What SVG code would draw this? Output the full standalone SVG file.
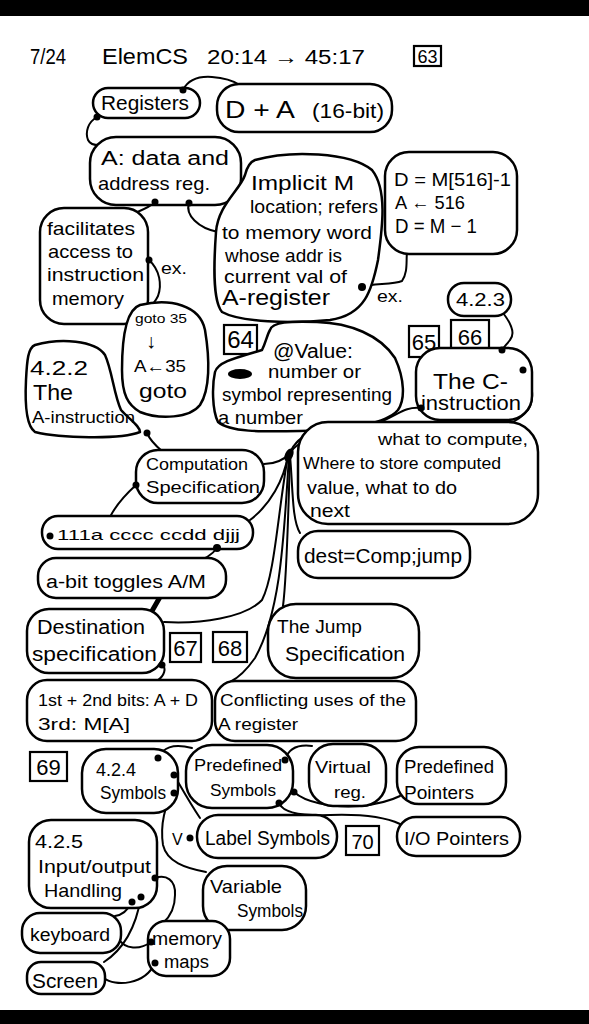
<svg xmlns="http://www.w3.org/2000/svg" width="589" height="1024" viewBox="0 0 589 1024">
<style>
.b{fill:#fff;stroke:#000;stroke-width:2.5;stroke-linejoin:round}
.bx{fill:#fff;stroke:#000;stroke-width:2.2}
.c{fill:none;stroke:#000;stroke-width:2;stroke-linecap:round}
.d{fill:#000}
text{font-family:"Liberation Sans","DejaVu Sans",sans-serif;fill:#000}
</style>
<rect x="0" y="0" width="589" height="1024" fill="#fff"/>
<rect x="0" y="0" width="589" height="16" fill="#000"/>
<rect x="0" y="1010" width="589" height="14" fill="#000"/>

<g id="header">
<text x="30" y="64" font-size="22" textLength="36" lengthAdjust="spacingAndGlyphs">7/24</text>
<text x="102" y="64" font-size="22" textLength="86" lengthAdjust="spacingAndGlyphs">ElemCS</text>
<text x="207" y="64" font-size="20" textLength="158" lengthAdjust="spacingAndGlyphs">20:14 → 45:17</text>
<rect class="bx" x="414" y="46" width="27" height="20"/>
<text x="427.5" y="63" font-size="18" text-anchor="middle">63</text>
</g>

<g id="connectors">
<path class="c" d="M183,90 C188,80 198,76 212,77 C225,78 232,80 240,85"/>
<path class="c" d="M97,117 C88,122 85,132 88,140 C92,148 108,146 128,138"/>
<path class="c" d="M155,202 C150,207 142,210 135,213"/>
<path class="c" d="M189,203 C185,215 198,228 218,232"/>
<path class="c" d="M149,260 C160,270 162,285 158,296 C155,302 152,305 150,306"/>
<path class="c" d="M362,287 C372,283 392,285 402,281 C408,272 406,262 407,252"/>
<path class="c" d="M503,313 C510,322 516,333 510,340 C507,344 504,347 502,350"/>
<path class="c" d="M523,370 C533,380 535,400 528,410 C520,420 512,423 505,425"/>
<path class="c" d="M421,408 C405,406 398,415 380,422 C350,432 305,430 290,453"/>
<path class="c" d="M147,433 C150,440 156,446 162,451"/>
<path class="c" d="M136,485 C125,495 115,507 110,517"/>
<path class="c" d="M217,548 C212,555 202,560 195,562"/>
<path class="c" d="M160,597 L152,611" style="stroke-width:5"/>
<path class="c" d="M162,665 C167,668 164,676 158,680"/>
<path class="c" d="M290,453 C282,462 273,464 264,464"/>
<path class="c" d="M290,453 C294,443 302,436 313,432"/>
<path class="c" d="M288,455 C284,480 270,505 250,520"/>
<path class="c" d="M290,455 C293,490 292,520 300,533"/>
<path class="c" d="M288,456 C278,510 275,575 262,600 C245,618 200,624 164,622"/>
<path class="c" d="M289,456 C284,530 282,610 255,658 C248,668 238,678 230,682"/>
<path class="c" d="M290,456 C288,520 287,575 283,606"/>
<path class="c" d="M158,758 C163,748 172,743 192,748"/>
<path class="c" d="M174,775 C180,785 188,800 200,818"/>
<path class="c" d="M174,793 C165,803 160,825 163,845 C167,862 185,868 206,872"/>
<path class="c" d="M285,760 C288,750 296,744 312,746"/>
<path class="c" d="M294,792 C305,802 330,808 360,806 C380,804 392,800 400,796"/>
<path class="c" d="M279,803 C283,813 300,816 330,815 C360,814 385,817 400,824"/>
<path class="c" d="M155,878 C166,874 176,880 175,895 C175,905 172,915 163,923"/>
<path class="c" d="M141,897 C138,915 130,945 104,962"/>
<path class="c" d="M132,902 C128,910 122,915 115,916"/>
<path class="c" d="M118,938 C125,950 140,950 151,942"/>
<path class="c" d="M104,978 C115,987 145,985 155,963"/>
</g>

<g id="n-registers"><rect class="b" x="93" y="88" width="107" height="30" rx="15"/>
<text x="101" y="110" font-size="20" textLength="88" lengthAdjust="spacingAndGlyphs">Registers</text></g>

<g id="n-da"><rect class="b" x="217" y="84" width="175" height="48" rx="22"/>
<text x="225" y="118" font-size="24" textLength="70" lengthAdjust="spacingAndGlyphs">D + A</text>
<text x="312" y="118" font-size="20" textLength="72" lengthAdjust="spacingAndGlyphs">(16-bit)</text></g>

<g id="n-adata"><rect class="b" x="90" y="137" width="151" height="68" rx="26"/>
<text x="101" y="165" font-size="20" textLength="128" lengthAdjust="spacingAndGlyphs">A: data and</text>
<text x="98" y="190" font-size="19" textLength="112" lengthAdjust="spacingAndGlyphs">address reg.</text></g>

<g id="n-implicit"><path class="b" d="M255,160 C290,150 350,152 372,170 C388,190 382,230 378,260 C372,290 365,315 330,320 C290,324 240,322 222,312 C212,300 214,260 216,232 C218,205 240,190 245,175 C247,167 250,162 255,160 Z"/>
<text x="251" y="190" font-size="20" textLength="103" lengthAdjust="spacingAndGlyphs">Implicit M</text>
<text x="250" y="213" font-size="18" textLength="128" lengthAdjust="spacingAndGlyphs">location; refers</text>
<text x="222" y="239" font-size="19" textLength="150" lengthAdjust="spacingAndGlyphs">to memory word</text>
<text x="225" y="262" font-size="19" textLength="117" lengthAdjust="spacingAndGlyphs">whose addr is</text>
<text x="224" y="283" font-size="19" textLength="123" lengthAdjust="spacingAndGlyphs">current val of</text>
<text x="222" y="305" font-size="22" textLength="108" lengthAdjust="spacingAndGlyphs">A-register</text></g>

<g id="n-dex"><rect class="b" x="385" y="152" width="132" height="102" rx="24"/>
<text x="394" y="186" font-size="19" textLength="117" lengthAdjust="spacingAndGlyphs">D = M[516]-1</text>
<text x="395" y="209" font-size="19" textLength="70" lengthAdjust="spacingAndGlyphs">A ← 516</text>
<text x="395" y="233" font-size="20" textLength="82" lengthAdjust="spacingAndGlyphs">D = M − 1</text></g>

<g id="n-facil"><rect class="b" x="40" y="208" width="108" height="116" rx="24"/>
<text x="47" y="235" font-size="19" textLength="88" lengthAdjust="spacingAndGlyphs">facilitates</text>
<text x="48" y="258" font-size="19" textLength="85" lengthAdjust="spacingAndGlyphs">access to</text>
<text x="47" y="281" font-size="19" textLength="97" lengthAdjust="spacingAndGlyphs">instruction</text>
<text x="52" y="305" font-size="19" textLength="72" lengthAdjust="spacingAndGlyphs">memory</text></g>

<g id="l-ex1"><text x="161" y="274" font-size="16" textLength="26" lengthAdjust="spacingAndGlyphs">ex.</text></g>
<g id="l-ex2"><text x="377" y="302" font-size="16" textLength="26" lengthAdjust="spacingAndGlyphs">ex.</text></g>

<g id="n-422"><path class="b" d="M35,345 C60,338 95,340 105,355 C112,370 114,395 121,410 C130,420 140,426 140,432 C120,440 60,438 35,432 C25,425 25,400 26,380 C27,360 28,348 35,345 Z"/>
<text x="30" y="375" font-size="20" textLength="58" lengthAdjust="spacingAndGlyphs">4.2.2</text>
<text x="33" y="400" font-size="22" textLength="40" lengthAdjust="spacingAndGlyphs">The</text>
<text x="32" y="423" font-size="17" textLength="103" lengthAdjust="spacingAndGlyphs">A-instruction</text></g>

<g id="n-goto"><path class="b" d="M140,305 C170,298 200,305 205,330 C210,360 210,390 200,405 C190,418 160,420 140,412 C128,405 122,395 122,370 C122,340 125,310 140,305 Z"/>
<text x="135" y="323" font-size="13" textLength="52" lengthAdjust="spacingAndGlyphs">goto 35</text>
<text x="146" y="348" font-size="20">↓</text>
<text x="134" y="372" font-size="17" textLength="52" lengthAdjust="spacingAndGlyphs">A←35</text>
<text x="139" y="398" font-size="21" textLength="48" lengthAdjust="spacingAndGlyphs">goto</text></g>

<g id="p64"><rect class="bx" x="224" y="325" width="33" height="29"/>
<text x="240.5" y="348" font-size="24" text-anchor="middle">64</text></g>

<g id="n-value"><path class="b" d="M270,330 C272,322 290,321 317,322 C350,323 380,335 395,358 C405,380 405,400 398,410 C385,425 340,430 300,431 C260,432 230,432 218,422 C212,410 212,385 215,372 C218,362 235,358 262,350 C266,342 267,335 270,330 Z"/>
<text x="273" y="358" font-size="20" textLength="80" lengthAdjust="spacingAndGlyphs">@Value:</text>
<ellipse cx="240" cy="374" rx="12" ry="5" fill="#000"/>
<text x="268" y="378" font-size="19" textLength="93" lengthAdjust="spacingAndGlyphs">number or</text>
<text x="222" y="401" font-size="18" textLength="170" lengthAdjust="spacingAndGlyphs">symbol representing</text>
<text x="218" y="424" font-size="19" textLength="85" lengthAdjust="spacingAndGlyphs">a number</text></g>

<g id="n-423"><rect class="b" x="448" y="283" width="63" height="33" rx="16"/>
<text x="456" y="306" font-size="19" textLength="49" lengthAdjust="spacingAndGlyphs">4.2.3</text></g>

<g id="p65"><rect class="bx" x="409" y="326" width="30" height="31"/>
<text x="424" y="350" font-size="22" text-anchor="middle">65</text></g>
<g id="p66"><rect class="bx" x="451" y="320" width="38" height="31"/>
<text x="470" y="345" font-size="22" text-anchor="middle">66</text></g>

<g id="n-cinstr"><rect class="b" x="416" y="348" width="116" height="72" rx="24"/>
<text x="433" y="389" font-size="22" textLength="75" lengthAdjust="spacingAndGlyphs">The C-</text>
<text x="421" y="410" font-size="20" textLength="100" lengthAdjust="spacingAndGlyphs">instruction</text></g>

<g id="n-what"><rect class="b" x="298" y="422" width="240" height="102" rx="30"/>
<text x="378" y="445" font-size="16" textLength="150" lengthAdjust="spacingAndGlyphs">what to compute,</text>
<text x="303" y="469" font-size="17" textLength="198" lengthAdjust="spacingAndGlyphs">Where to store computed</text>
<text x="307" y="494" font-size="18" textLength="150" lengthAdjust="spacingAndGlyphs">value, what to do</text>
<text x="310" y="517" font-size="19" textLength="40" lengthAdjust="spacingAndGlyphs">next</text></g>

<g id="n-comp"><rect class="b" x="136" y="450" width="128" height="53" rx="22"/>
<text x="146" y="470" font-size="17" textLength="102" lengthAdjust="spacingAndGlyphs">Computation</text>
<text x="146" y="493" font-size="17" textLength="114" lengthAdjust="spacingAndGlyphs">Specification</text></g>

<g id="n-111a"><rect class="b" x="42" y="516" width="211" height="33" rx="16"/>
<text x="57" y="540" font-size="15" textLength="183" lengthAdjust="spacingAndGlyphs">111a cccc ccdd djjj</text></g>

<g id="n-dest"><rect class="b" x="298" y="531" width="172" height="47" rx="20"/>
<text x="304" y="563" font-size="20" textLength="158" lengthAdjust="spacingAndGlyphs">dest=Comp;jump</text></g>

<g id="n-abit"><rect class="b" x="38" y="558" width="188" height="40" rx="18"/>
<text x="46" y="588" font-size="18" textLength="160" lengthAdjust="spacingAndGlyphs">a-bit toggles A/M</text></g>

<g id="n-destspec"><rect class="b" x="27" y="609" width="137" height="64" rx="22"/>
<text x="37" y="634" font-size="20" textLength="108" lengthAdjust="spacingAndGlyphs">Destination</text>
<text x="32" y="661" font-size="20" textLength="125" lengthAdjust="spacingAndGlyphs">specification</text></g>

<g id="p67"><rect class="bx" x="170" y="633" width="31" height="29"/>
<text x="185.5" y="656" font-size="22" text-anchor="middle">67</text></g>
<g id="p68"><rect class="bx" x="213" y="632" width="34" height="30"/>
<text x="230" y="656" font-size="22" text-anchor="middle">68</text></g>

<g id="n-jump"><rect class="b" x="268" y="604" width="151" height="74" rx="28"/>
<text x="277" y="633" font-size="19" textLength="85" lengthAdjust="spacingAndGlyphs">The Jump</text>
<text x="285" y="661" font-size="20" textLength="120" lengthAdjust="spacingAndGlyphs">Specification</text></g>

<g id="n-bits"><rect class="b" x="27" y="680" width="185" height="61" rx="20"/>
<text x="38" y="706" font-size="17" textLength="160" lengthAdjust="spacingAndGlyphs">1st + 2nd bits: A + D</text>
<text x="38" y="730" font-size="17" textLength="92" lengthAdjust="spacingAndGlyphs">3rd: M[A]</text></g>

<g id="n-conf"><rect class="b" x="215" y="681" width="201" height="60" rx="20"/>
<text x="220" y="706" font-size="17" textLength="186" lengthAdjust="spacingAndGlyphs">Conflicting uses of the</text>
<text x="218" y="730" font-size="17" textLength="80" lengthAdjust="spacingAndGlyphs">A register</text></g>

<g id="p69"><rect class="bx" x="30" y="752" width="37" height="29"/>
<text x="48.5" y="775" font-size="22" text-anchor="middle">69</text></g>

<g id="n-424"><rect class="b" x="82" y="749" width="96" height="64" rx="24"/>
<text x="96" y="776" font-size="18" textLength="40" lengthAdjust="spacingAndGlyphs">4.2.4</text>
<text x="100" y="799" font-size="18" textLength="66" lengthAdjust="spacingAndGlyphs">Symbols</text></g>

<g id="n-predsym"><rect class="b" x="186" y="745" width="107" height="63" rx="26"/>
<text x="194" y="771" font-size="17" textLength="88" lengthAdjust="spacingAndGlyphs">Predefined</text>
<text x="210" y="796" font-size="17" textLength="66" lengthAdjust="spacingAndGlyphs">Symbols</text></g>

<g id="n-virtual"><rect class="b" x="309" y="744" width="77" height="62" rx="24"/>
<text x="315" y="773" font-size="17" textLength="56" lengthAdjust="spacingAndGlyphs">Virtual</text>
<text x="334" y="798" font-size="17" textLength="32" lengthAdjust="spacingAndGlyphs">reg.</text></g>

<g id="n-predptr"><rect class="b" x="397" y="747" width="109" height="57" rx="22"/>
<text x="404" y="773" font-size="18" textLength="90" lengthAdjust="spacingAndGlyphs">Predefined</text>
<text x="404" y="799" font-size="18" textLength="70" lengthAdjust="spacingAndGlyphs">Pointers</text></g>

<g id="n-label"><rect class="b" x="197" y="815" width="140" height="43" rx="21"/>
<text x="172" y="845" font-size="16">V</text>
<text x="205" y="845" font-size="20" textLength="125" lengthAdjust="spacingAndGlyphs">Label Symbols</text></g>

<g id="p70"><rect class="bx" x="346" y="826" width="33" height="29"/>
<text x="362.5" y="849" font-size="20" text-anchor="middle">70</text></g>

<g id="n-io"><rect class="b" x="397" y="817" width="123" height="39" rx="19"/>
<text x="404" y="845" font-size="19" textLength="105" lengthAdjust="spacingAndGlyphs">I/O Pointers</text></g>

<g id="n-425"><rect class="b" x="29" y="820" width="128" height="88" rx="22"/>
<text x="35" y="848" font-size="18" textLength="48" lengthAdjust="spacingAndGlyphs">4.2.5</text>
<text x="38" y="873" font-size="18" textLength="113" lengthAdjust="spacingAndGlyphs">Input/output</text>
<text x="44" y="897" font-size="19" textLength="78" lengthAdjust="spacingAndGlyphs">Handling</text></g>

<g id="n-var"><rect class="b" x="203" y="866" width="103" height="64" rx="24"/>
<text x="210" y="893" font-size="19" textLength="72" lengthAdjust="spacingAndGlyphs">Variable</text>
<text x="237" y="917" font-size="18" textLength="66" lengthAdjust="spacingAndGlyphs">Symbols</text></g>

<g id="n-keyboard"><rect class="b" x="22" y="913" width="99" height="40" rx="18"/>
<text x="30" y="941" font-size="18" textLength="80" lengthAdjust="spacingAndGlyphs">keyboard</text></g>

<g id="n-memmaps"><rect class="b" x="148" y="921" width="82" height="55" rx="18"/>
<text x="152" y="945" font-size="18" textLength="70" lengthAdjust="spacingAndGlyphs">memory</text>
<text x="164" y="968" font-size="18" textLength="45" lengthAdjust="spacingAndGlyphs">maps</text></g>

<g id="n-screen"><rect class="b" x="27" y="962" width="78" height="32" rx="14"/>
<text x="32" y="988" font-size="20" textLength="66" lengthAdjust="spacingAndGlyphs">Screen</text></g>

<g id="connector-dots">
<circle class="d" cx="183" cy="90" r="3.5"/><circle class="d" cx="97" cy="117" r="3.5"/>
<circle class="d" cx="155" cy="202" r="3.5"/><circle class="d" cx="189" cy="203" r="3.5"/>
<circle class="d" cx="149" cy="260" r="3.5"/><circle class="d" cx="362" cy="287" r="4"/>
<circle class="d" cx="502" cy="350" r="3.5"/><circle class="d" cx="523" cy="370" r="3.5"/>
<circle class="d" cx="421" cy="408" r="3.5"/><ellipse class="d" cx="289" cy="455" rx="4" ry="7" transform="rotate(25 289 455)"/>
<circle class="d" cx="147" cy="433" r="3.5"/><circle class="d" cx="136" cy="485" r="3.5"/>
<circle class="d" cx="50" cy="536" r="3.5"/><circle class="d" cx="217" cy="548" r="4"/>
<circle class="d" cx="162" cy="665" r="3.5"/>
<circle class="d" cx="158" cy="758" r="3.5"/><circle class="d" cx="174" cy="775" r="3.5"/>
<circle class="d" cx="174" cy="793" r="3.5"/><circle class="d" cx="285" cy="760" r="3.5"/>
<circle class="d" cx="294" cy="792" r="3.5"/><circle class="d" cx="279" cy="803" r="3.5"/>
<circle class="d" cx="190" cy="838" r="3.5"/>
<circle class="d" cx="155" cy="878" r="3.5"/><circle class="d" cx="141" cy="897" r="3.5"/>
<circle class="d" cx="132" cy="902" r="3.5"/><circle class="d" cx="151" cy="942" r="3.5"/>
<circle class="d" cx="155" cy="963" r="3.5"/>
</g>
</svg>
